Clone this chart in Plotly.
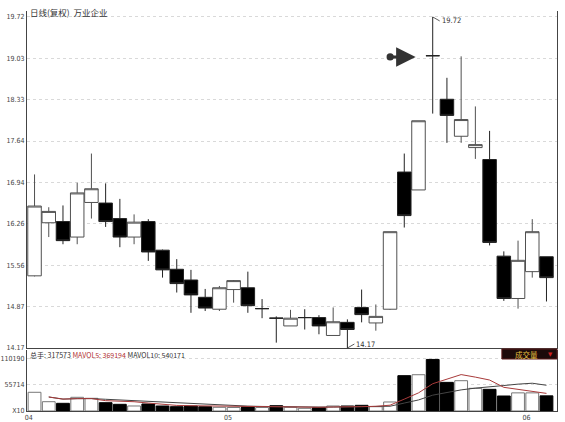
import plotly.graph_objects as go
import pandas as pd

# ---------------- data ----------------
opens  = [15.38, 16.27, 16.29, 16.03, 16.61, 16.60, 16.34, 16.03, 16.29, 15.81,
          15.49, 15.31, 15.02, 14.82, 15.15, 15.18, 14.83, 14.67, 14.54, 14.68,
          14.68, 14.38, 14.60, 14.85, 14.59, 14.82, 17.12, 16.82, 19.07, 18.34,
          17.72, 17.53, 17.33, 15.71, 15.00, 15.45, 15.70]
highs  = [17.08, 16.53, 16.56, 16.94, 17.43, 16.93, 16.67, 16.41, 16.33, 15.82,
          15.66, 15.48, 15.16, 15.21, 15.31, 15.45, 14.99, 14.70, 14.81, 14.82,
          14.72, 14.85, 14.65, 15.15, 14.90, 16.12, 17.43, 17.98, 19.72, 18.70,
          19.06, 18.22, 17.81, 15.79, 15.97, 16.33, 15.70]
lows   = [15.37, 16.03, 15.91, 15.91, 16.34, 16.20, 15.86, 15.91, 15.63, 15.35,
          15.10, 14.76, 14.79, 14.79, 14.93, 14.76, 14.67, 14.26, 14.54, 14.48,
          14.40, 14.38, 14.17, 14.60, 14.46, 14.81, 16.19, 16.82, 18.10, 17.61,
          17.61, 17.34, 15.89, 14.96, 14.83, 15.35, 14.95]
closes = [16.55, 16.46, 15.97, 16.77, 16.84, 16.29, 16.03, 16.28, 15.78, 15.48,
          15.25, 15.06, 14.84, 15.18, 15.30, 14.88, 14.83, 14.67, 14.67, 14.68,
          14.54, 14.61, 14.48, 14.73, 14.70, 16.12, 16.39, 17.98, 19.07, 18.07,
          18.00, 17.58, 15.94, 15.00, 15.64, 16.12, 15.35]
# volume in axis units (x10)
volumes = [39200, 19500, 16100, 28700, 26600, 17400, 14000, 10500, 14700, 10500,
           9000, 10500, 9000, 7700, 7300, 9000, 7300, 11100, 7700, 5600,
           7300, 10500, 10500, 11900, 9000, 18900, 74000, 76000, 108000, 60000,
           63500, 47500, 45400, 31400, 38000, 38000, 31757]
# volume bar is hollow (up day) or filled (down day)
vol_up = [1, 1, 0, 1, 1, 0, 0, 1, 0, 0,
          0, 0, 0, 1, 1, 0, 1, 0, 1, 1,
          0, 1, 0, 0, 1, 1, 0, 1, 0, 0,
          1, 1, 0, 0, 1, 1, 0]

price_ticks = [14.17, 14.87, 15.56, 16.26, 16.94, 17.64, 18.33, 19.03, 19.72]
vol_tickvals = [0, 55714, 110190]
vol_ticktext = ["X10", "55714", "110190"]
month_starts = [0, 14, 35]
month_labels = ["04", "05", "06"]

title_text = "日线(复权)  万业企业"
total_hands = 317573
mavol5_val = 369194
mavol10_val = 540171
high_idx, low_idx = 28, 22

# ---------------- figure ----------------
n = len(opens)
idx = list(range(n))
up = [i for i in idx if closes[i] > opens[i]]
dn = [i for i in idx if closes[i] <= opens[i]]

FONT = "Liberation Sans Narrow, DejaVu Sans Condensed, Liberation Sans, Noto Sans CJK SC, sans-serif"

fig = go.Figure()

# helper box trace (off-screen) so that layout.boxgap is honoured by candlesticks
fig.add_trace(go.Box(x=[0], y=[100], marker=dict(opacity=0), line=dict(width=0),
                     fillcolor="rgba(0,0,0,0)", hoverinfo="skip", showlegend=False,
                     xaxis="x", yaxis="y"))

fig.add_trace(go.Candlestick(
    x=up, open=[opens[i] for i in up], high=[highs[i] for i in up],
    low=[lows[i] for i in up], close=[closes[i] for i in up],
    increasing=dict(fillcolor="white", line=dict(color="#505050", width=1)),
    decreasing=dict(fillcolor="white", line=dict(color="#505050", width=1)),
    whiskerwidth=0, hoverinfo="skip", showlegend=False, xaxis="x", yaxis="y"))

fig.add_trace(go.Candlestick(
    x=dn, open=[opens[i] for i in dn], high=[highs[i] for i in dn],
    low=[lows[i] for i in dn], close=[closes[i] for i in dn],
    increasing=dict(fillcolor="black", line=dict(color="#222222", width=1)),
    decreasing=dict(fillcolor="black", line=dict(color="#222222", width=1)),
    whiskerwidth=0, hoverinfo="skip", showlegend=False, xaxis="x", yaxis="y"))

fig.add_trace(go.Bar(
    x=idx, y=volumes, width=0.9,
    marker=dict(color=["white" if u else "black" for u in vol_up],
                line=dict(color=["#777777" if u else "black" for u in vol_up], width=1)),
    hoverinfo="skip", showlegend=False, xaxis="x2", yaxis="y2"))

vs = pd.Series(volumes, dtype=float)
ma5 = vs.rolling(5, min_periods=1).mean()
ma10 = vs.rolling(10, min_periods=1).mean()
fig.add_trace(go.Scatter(x=idx[1:], y=ma10[1:], mode="lines",
                         line=dict(color="#444444", width=1),
                         hoverinfo="skip", showlegend=False, xaxis="x2", yaxis="y2"))
fig.add_trace(go.Scatter(x=idx[1:], y=ma5[1:], mode="lines",
                         line=dict(color="#a83a3a", width=1),
                         hoverinfo="skip", showlegend=False, xaxis="x2", yaxis="y2"))

xr = [-0.53, 36.74]
tickfont = dict(family=FONT, size=7, color="#444444")

fig.update_layout(
    width=565, height=422,
    margin=dict(l=27, r=8, t=11, b=11, autoexpand=False),
    paper_bgcolor="white", plot_bgcolor="white",
    boxgap=0.05, boxgroupgap=0, boxmode="overlay",
    font=dict(family=FONT, size=8, color="#333333"),
    xaxis=dict(domain=[0, 1], range=xr, anchor="y", showgrid=False, zeroline=False,
               showticklabels=False, showline=True, linecolor="#444444", linewidth=1,
               rangeslider=dict(visible=False), fixedrange=True, automargin=False),
    yaxis=dict(domain=[0.1575, 1], range=[14.17, 19.82], anchor="x",
               tickvals=price_ticks, ticktext=[f"{v:.2f}" for v in price_ticks],
               tickfont=tickfont, ticks="", ticklen=0, showgrid=True, gridcolor="#d9d9d9",
               griddash="dot", gridwidth=1, zeroline=False, automargin=False,
               showline=True, linecolor="#444444", linewidth=1, mirror=True),
    xaxis2=dict(domain=[0, 1], range=xr, anchor="y2", matches="x", showgrid=False,
                zeroline=False, showline=True, linecolor="#444444", linewidth=1,
                tickvals=[m - 0.4 for m in month_starts], ticktext=month_labels,
                tickfont=tickfont, ticks="", ticklen=0, automargin=False),
    yaxis2=dict(domain=[0, 0.1525], range=[0, 127800], anchor="x2",
                tickvals=vol_tickvals, ticktext=vol_ticktext, tickfont=tickfont,
                ticks="", ticklen=0, showgrid=True, gridcolor="#d9d9d9", griddash="dot",
                zeroline=False, showline=True, linecolor="#444444", linewidth=1,
                mirror=True, automargin=False),
    bargap=0.1,
)

ann = []
# chart title
ann.append(dict(xref="paper", yref="paper", x=0, y=0.9975, xshift=1,
                text=title_text, showarrow=False, xanchor="left", yanchor="middle",
                font=dict(family="Noto Sans CJK SC, sans-serif", size=8.5, color="#333333")))
# volume header
ann.append(dict(xref="paper", yref="paper", x=0, y=0.14, xshift=1,
                text=(f"总手: {total_hands} "
                      f"<span style='color:#b03030'>MAVOL5: {mavol5_val}</span> "
                      f"MAVOL10: {mavol10_val}"),
                showarrow=False, xanchor="left", yanchor="middle",
                font=dict(family="Noto Sans CJK SC, " + FONT, size=7, color="#333333")))
# high / low labels
ann.append(dict(x=high_idx, y=highs[high_idx], xref="x", yref="y",
                text=f"{highs[high_idx]:.2f}", showarrow=True, arrowhead=0,
                arrowwidth=0.8, arrowcolor="#333333", ax=7, ay=4,
                xanchor="left", yanchor="middle",
                font=dict(family=FONT, size=7.5, color="#333333")))
ann.append(dict(x=low_idx, y=lows[low_idx], xref="x", yref="y",
                text=f"{lows[low_idx]:.2f}", showarrow=True, arrowhead=0,
                arrowwidth=0.8, arrowcolor="#333333", ax=7, ay=-4,
                xanchor="left", yanchor="middle",
                font=dict(family=FONT, size=7.5, color="#333333")))
# pointing arrow toward the cross candle
ann.append(dict(x=high_idx - 1.2, y=opens[high_idx] - 0.02, xref="x", yref="y",
                text="", showarrow=True, arrowhead=2, arrowsize=1.3, arrowwidth=3,
                arrowcolor="#333333", ax=-27, ay=0, arrowside="end+start",
                startarrowhead=6, startarrowsize=0.6))
# 成交量 tag
ann.append(dict(xref="paper", yref="paper", x=0.943, y=0.1425, text="成交量",
                showarrow=False, xanchor="center", yanchor="middle",
                font=dict(family="Noto Sans CJK SC, sans-serif", size=7.5, color="#e8c040")))
ann.append(dict(xref="paper", yref="paper", x=0.987, y=0.1425, text="▼",
                showarrow=False, xanchor="center", yanchor="middle",
                font=dict(family="DejaVu Sans", size=5.5, color="#d02020")))
fig.update_layout(annotations=ann)

fig.add_shape(type="rect", xref="paper", yref="paper", x0=0.896, x1=1.0,
              y0=0.13, y1=0.155, fillcolor="#1c0a0a",
              line=dict(color="#5a1a1a", width=1), layer="above")

fig.write_html("out.html")
